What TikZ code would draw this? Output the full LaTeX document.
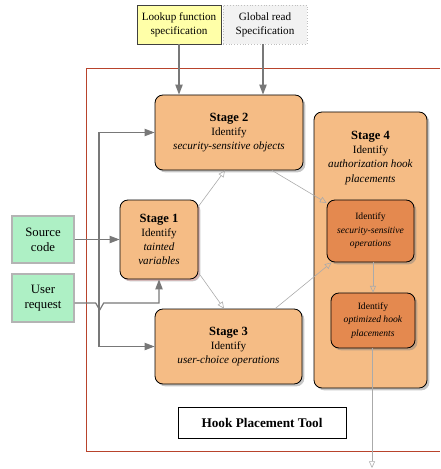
\documentclass[tikz,border=0pt]{standalone}
\usepackage{fontspec}
\setmainfont{Liberation Serif}
\usepackage{tikz}
\usetikzlibrary{arrows.meta, shadows}

\definecolor{peach}{HTML}{F5BC85}
\definecolor{deeppeach}{HTML}{E4894F}
\definecolor{inputgreen}{HTML}{AEF0C5}
\definecolor{inputedge}{HTML}{B4B4B4}
\definecolor{specyellow}{HTML}{FFFFA8}
\definecolor{specgray}{HTML}{F2F2F2}
\definecolor{framered}{HTML}{B8432C}
\definecolor{feedgray}{HTML}{787878}
\definecolor{flowgray}{HTML}{AAAAAA}

\newcommand{\stg}[1]{{\fontsize{10.7}{12}\selectfont\bfseries Stage #1}}

\begin{document}
\begin{tikzpicture}[x=0.3mm, y=-0.3mm,
  font=\fontsize{9.5}{12}\selectfont,
  stagebox/.style={draw=black, line width=0.7pt, fill=peach, rounded corners=2.4mm,
    align=center, inner sep=0pt,
    drop shadow={shadow xshift=0.7mm, shadow yshift=-0.7mm, opacity=0.45}},
  opbox/.style={stagebox, fill=deeppeach, font=\fontsize{8.2}{11.5}\selectfont},
  inbox/.style={draw=inputedge, line width=1.2pt, fill=inputgreen, align=center,
    inner sep=0pt, minimum width=18.6mm, font=\fontsize{10.9}{12.8}\selectfont},
  specbox/.style={align=center, inner sep=0pt, minimum width=25.2mm, minimum height=11.7mm},
  feed/.style={draw=feedgray, line width=1pt, -{Triangle[length=3mm,width=2.2mm]}},
  flow/.style={draw=flowgray, line width=0.5pt, -{Triangle[open,length=2mm,width=1.8mm]}},
]
\useasboundingbox (0,0) rectangle (440,469);

% outer frame of the tool
\draw[framered, line width=0.85pt] (440,68) -| (86,451) -- (440,451);

% specifications
\node[specbox, draw=black!75, line width=0.8pt, fill=specyellow] (lookup) at (179,24.5)
  {Lookup function\\specification};
\node[specbox, draw=black!25, dotted, fill=specgray] (globalread) at (265,24.5)
  {Global read\\Specification};

% inputs
\node[inbox, minimum height=14.1mm] (src) at (43,239.5) {Source\\code};
\node[inbox, minimum height=14.4mm] (req) at (43,298) {User\\request};

% stages
\node[stagebox, minimum width=44.4mm, minimum height=22.5mm] (stage2) at (229,132.5)
  {\stg{2}\\Identify\\\textit{security-sensitive objects}};
\node[stagebox, minimum width=23.4mm, minimum height=23.7mm,
  drop shadow={shadow xshift=0.5mm, shadow yshift=-0.5mm, opacity=0.35, fill=red!45}]
  (stage1) at (159,239.5)
  {\stg{1}\\Identify\\\textit{tainted}\\\textit{variables}};
\node[stagebox, minimum width=44.1mm, minimum height=22.5mm] (stage3) at (228.5,346.5)
  {\stg{3}\\Identify\\\textit{user-choice operations}};
\node[stagebox, minimum width=33.9mm, minimum height=82.8mm] (stage4) at (370.5,250) {};
\node[align=center] (stage4txt) at (370.5,158)
  {\stg{4}\\Identify\\\textit{authorization hook}\\\textit{placements}};
\node[opbox, minimum width=26.1mm, minimum height=18.6mm] (ops1) at (370.5,231)
  {Identify\\\textit{security-sensitive}\\\textit{operations}};
\node[opbox, minimum width=25.2mm, minimum height=16.5mm] (ops2) at (373,320.5)
  {Identify\\\textit{optimized hook}\\\textit{placements}};

\node[draw=black, line width=0.8pt, fill=white, minimum width=50.4mm, minimum height=9.3mm,
  inner sep=0pt, font=\fontsize{11.3}{13}\selectfont\bfseries,
  drop shadow={shadow xshift=0.4mm, shadow yshift=-0.4mm, opacity=0.35}]
  (tool) at (262,422.5) {Hook Placement Tool};

% specifications into stage 2
\draw[feed] (lookup.south) -- (lookup.south |- stage2.north);
\draw[feed] ([xshift=-0.6mm]globalread.south) -- ([xshift=-0.6mm]globalread.south |- stage2.north);

% source code feeds stages 1, 2 and 3
\coordinate (split) at (99,239.5);
\draw[feed] (src.east) -- (stage1.west);
\draw[feed] (split) |- (stage2.west);
\draw[feed] (split) |- (stage3.west);

% user request hops over the feed line
\draw[feed] ([yshift=-1.5mm]req.east) -- ++(21,0) -- ++(4,7) -- ++(4,-7) -| (stage1.south);

% flow between the stages
\draw[flow] (stage1.40) -- ([xshift=-1.2mm]stage2.south);
\draw[flow] ([xshift=12.9mm]stage2.south) -- ([yshift=-1mm]ops1.north west);
\draw[flow] (stage1.-40) -- ([xshift=-1.35mm]stage3.north);
\draw[flow] ([xshift=14mm]stage3.north) -- ([xshift=1.5mm]ops1.south west);
\draw[flow] (ops2.north |- ops1.south) -- (ops2.north);
\coordinate (out) at (372,468);
\draw[flow] ([xshift=-0.3mm]ops2.south) -- (out);
\end{tikzpicture}
\end{document}
